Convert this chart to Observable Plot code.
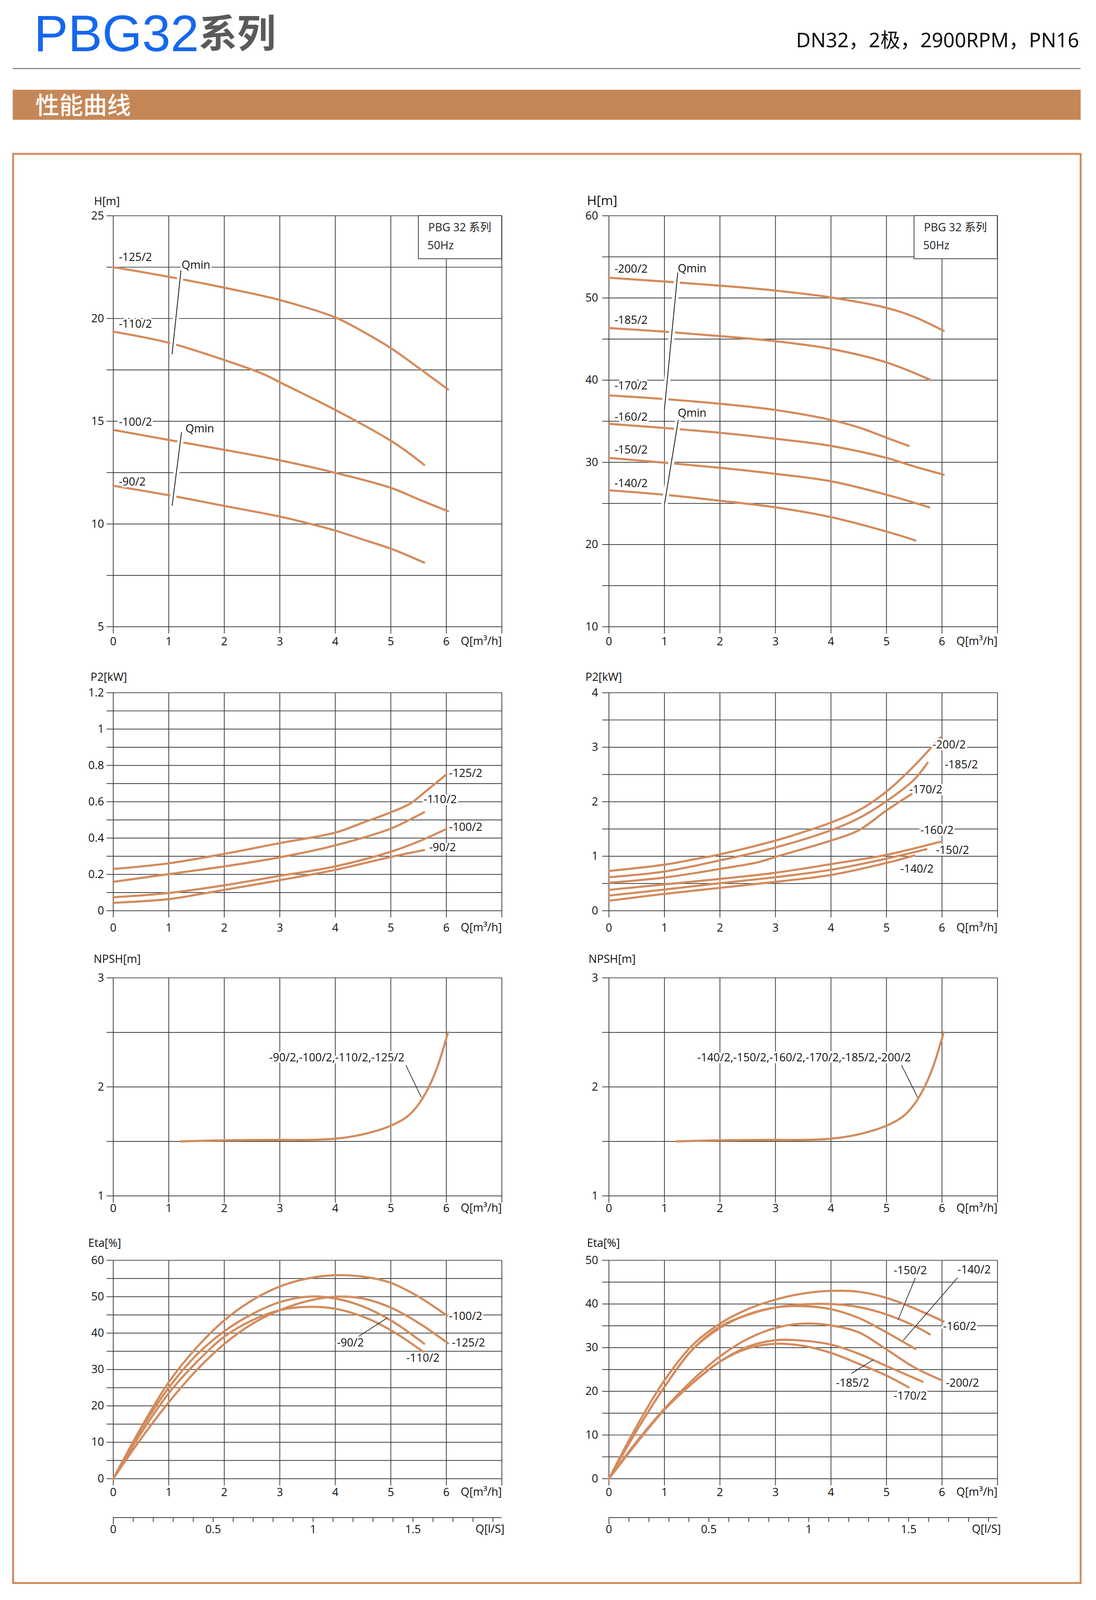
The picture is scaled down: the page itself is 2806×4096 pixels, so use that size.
<!DOCTYPE html>
<html><head><meta charset="utf-8">
<script src="https://cdn.jsdelivr.net/npm/d3@7"></script>
<script src="https://cdn.jsdelivr.net/npm/@observablehq/plot@0.6"></script>
<style>
html,body{margin:0;padding:0;background:#fff;}
#page{position:relative;width:2806px;height:4096px;overflow:hidden;background:#fff;}
#page svg{position:absolute;overflow:visible;}
</style></head>
<body><div id="page"></div>
<script>
const k = 0.986;
const FONT = "'Open Sans','Noto Sans CJK SC',sans-serif";
const CURVE = "#D38B5D";
const GRID = "#3d3d3d";
const BROWN = "#C68758";

// ---------- shared axis values ----------
const qTicks = [0,1,2,3,4,5,6,7];
const qLabels = [0,1,2,3,4,5,6];
const lsTicks = [0,0.1,0.2,0.3,0.4,0.5,0.6,0.7,0.8,0.9,1,1.1,1.2,1.3,1.4,1.5,1.6,1.7,1.8,1.9];
const lsLabels = [0,0.5,1,1.5];

// ---------- H, left (-90/2 ... -125/2) ----------
const hLeftGrid = [5,7.5,10,12.5,15,17.5,20,22.5,25];
const hLeftTickLabels = [5,10,15,20,25];
const hLeftNames = ["-125/2","-110/2","-100/2","-90/2"];
const hLeft125 = [[0,22.5],[1,22.03],[2,21.5],[3,20.9],[4,20.05],[4.5,19.36],[5,18.56],[5.5,17.6],[6.03,16.55]];
const hLeft110 = [[0,19.36],[1,18.82],[2,17.98],[2.7,17.3],[3,16.9],[4,15.55],[5,14.05],[5.3,13.5],[5.6,12.88]];
const hLeft100 = [[0,14.58],[1,14.09],[2,13.61],[3,13.1],[4,12.49],[5,11.76],[5.5,11.2],[6.03,10.62]];
const hLeft90  = [[0,11.86],[1,11.4],[2,10.88],[3,10.36],[3.5,10.04],[4,9.68],[4.5,9.24],[5,8.8],[5.6,8.12]];
const hLeftLabels = [["-125/2",0.1,22.98],["-110/2",0.1,19.73],["-100/2",0.1,14.95],["-90/2",0.1,12.05],["Qmin",1.23,22.6],["Qmin",1.3,14.63]];
const hLeftQmin = [[1.22,22.35,1.06,18.27],[1.23,14.47,1.06,10.89]];

// ---------- H, right (-140/2 ... -200/2) ----------
const hRightGrid = [10,15,20,25,30,35,40,45,50,55,60];
const hRightTickLabels = [10,20,30,40,50,60];
const hRightNames = ["-200/2","-185/2","-170/2","-160/2","-150/2","-140/2"];
const hRight200 = [[0,52.46],[1,52.0],[2,51.5],[3,50.9],[4,50.06],[5,48.8],[5.5,47.7],[6.03,46.0]];
const hRight185 = [[0,46.34],[1,45.9],[2,45.36],[3,44.74],[4,43.8],[5,42.16],[5.8,40.0]];
const hRight170 = [[0,38.15],[1,37.7],[2,37.13],[3,36.37],[4,35.16],[4.5,34.25],[5,33.0],[5.4,32.0]];
const hRight160 = [[0,34.69],[1,34.18],[2,33.6],[3,32.87],[4,32.0],[5,30.54],[5.5,29.5],[6.03,28.5]];
const hRight150 = [[0,30.54],[1,29.96],[2,29.34],[3,28.6],[4,27.7],[5,26.06],[5.77,24.53]];
const hRight140 = [[0,26.6],[1,26.06],[2,25.33],[3,24.53],[4,23.33],[5,21.58],[5.52,20.5]];
const hRightLabels = [["-200/2",0.1,53.5],["-185/2",0.1,47.3],["-170/2",0.1,39.3],["-160/2",0.1,35.5],["-150/2",0.1,31.5],["-140/2",0.1,27.4],["Qmin",1.24,53.55],["Qmin",1.24,36.0]];
const hRightQmin = [[1.24,53.1,1.0,36.44],[1.25,35.16,1.0,24.86]];

// ---------- P2, left ----------
const pLeftGrid = [0,0.1,0.2,0.3,0.4,0.5,0.6,0.7,0.8,0.9,1,1.1,1.2];
const pLeftTickLabels = [0,0.2,0.4,0.6,0.8,1,1.2];
const pLeftNames = ["-125/2","-110/2","-100/2","-90/2"];
const pLeft125 = [[0,0.23],[1,0.261],[2,0.313],[3,0.372],[4,0.43],[4.5,0.485],[5,0.542],[5.35,0.59],[5.66,0.665],[6,0.75]];
const pLeft110 = [[0,0.159],[1,0.2016],[2,0.244],[3,0.294],[4,0.36],[5,0.452],[5.3,0.495],[5.6,0.542]];
const pLeft100 = [[0,0.074],[1,0.0975],[2,0.14],[3,0.192],[4,0.244],[5,0.325],[5.5,0.381],[6,0.45]];
const pLeft90  = [[0,0.0435],[1,0.064],[1.5,0.088],[2,0.1145],[3,0.168],[4,0.225],[5,0.296],[5.6,0.334]];
const pLeftLabels = [["-125/2",6.05,0.755],["-110/2",5.59,0.613],["-100/2",6.05,0.46],["-90/2",5.69,0.348]];

// ---------- P2, right ----------
const pRightGrid = [0,0.5,1,1.5,2,2.5,3,3.5,4];
const pRightTickLabels = [0,1,2,3,4];
const pRightNames = ["-200/2","-185/2","-170/2","-160/2","-150/2","-140/2"];
const pRight200 = [[0,0.729],[1,0.845],[1.6,0.956],[2,1.035],[3,1.287],[3.6,1.476],[4,1.618],[4.5,1.84],[5,2.186],[5.5,2.66],[5.97,3.18]];
const pRight185 = [[0,0.615],[1,0.719],[2,0.924],[3,1.16],[4,1.476],[4.5,1.697],[5,2.01],[5.5,2.407],[5.74,2.716]];
const pRight170 = [[0,0.514],[1,0.609],[2,0.767],[2.7,0.893],[3,0.987],[4,1.287],[4.5,1.476],[5,1.84],[5.45,2.139]];
const pRight160 = [[0,0.382],[1,0.483],[2,0.584],[3,0.697],[4,0.855],[5,1.025],[5.97,1.265]];
const pRight150 = [[0,0.278],[1,0.388],[2,0.505],[3,0.615],[4,0.751],[5,0.956],[5.72,1.129]];
const pRight140 = [[0,0.183],[1,0.309],[2,0.42],[3,0.53],[4,0.656],[5,0.877],[5.5,1.013]];
const pRightLabels = [["-200/2",5.83,3.04],["-185/2",6.05,2.68],["-170/2",5.41,2.22],["-160/2",5.61,1.476],["-150/2",5.89,1.11],["-140/2",5.25,0.767]];

// ---------- NPSH ----------
const nGrid = [1,1.5,2,2.5,3];
const nTickLabels = [1,2,3];
const nNames = ["all"];
const nLeftCurve  = [[1.21,1.5],[2,1.51],[3,1.514],[3.5,1.514],[4,1.525],[4.5,1.565],[5,1.644],[5.3,1.73],[5.5,1.84],[5.7,2.014],[5.85,2.2],[6.03,2.5]];
const nRightCurve = [[1.21,1.5],[2,1.51],[3,1.514],[3.5,1.514],[4,1.525],[4.5,1.565],[5,1.644],[5.3,1.73],[5.5,1.84],[5.7,2.014],[5.85,2.2],[6.03,2.5]];
const nLeftLabels = [["-90/2,-100/2,-110/2,-125/2",2.81,2.267]];
const nRightLabels = [["-140/2,-150/2,-160/2,-170/2,-185/2,-200/2",1.59,2.267]];
const nLeftLeaders = [[5.27,2.2,5.55,1.904]];
const nRightLeaders = [[5.27,2.2,5.56,1.904]];

// ---------- Eta, left ----------
const eLeftGrid = [0,5,10,15,20,25,30,35,40,45,50,55,60];
const eLeftTickLabels = [0,10,20,30,40,50,60];
const eLeftNames = ["-100/2","-90/2","-110/2","-125/2"];
const eLeft100 = [[0,0],[0.5,14],[1,26.5],[1.5,36],[2,43.5],[2.5,49],[3,52.8],[3.5,55],[4,55.9],[4.5,55.5],[5,53.8],[5.5,50],[6.03,44.6]];
const eLeft90  = [[0,0],[0.5,13.5],[1,25],[1.5,34],[2,40.5],[2.5,45.2],[3,48.5],[3.5,50],[4,49.5],[4.5,47.3],[5,43.5],[5.6,37.1]];
const eLeft110 = [[0,0],[0.5,12.5],[1,23.5],[1.5,32],[2,39],[2.5,43.5],[3,46.3],[3.5,47.2],[4,46.7],[4.5,44.5],[5,40.8],[5.6,34.7]];
const eLeft125 = [[0,0],[0.5,11],[1,21],[1.5,29.8],[2,37],[2.5,42.5],[3,46.3],[3.5,48.8],[4,50],[4.5,49.5],[5,47],[5.5,42.8],[6.03,37.2]];
const eLeftLabels = [["-100/2",6.05,44.6],["-125/2",6.1,37.3],["-90/2",4.03,37.3],["-110/2",5.28,33.1]];
const eLeftLeaders = [[4.42,39.1,4.93,44.1]];

// ---------- Eta, right ----------
const eRightGrid = [0,5,10,15,20,25,30,35,40,45,50];
const eRightTickLabels = [0,10,20,30,40,50];
const eRightNames = ["-160/2","-150/2","-140/2","-200/2","-185/2","-170/2"];
const eRight160 = [[0,0],[0.5,12],[1,22.5],[1.5,30.5],[2,35.5],[2.5,38.8],[3,41],[3.5,42.4],[4,43],[4.5,42.8],[5,41.4],[5.5,39],[6.03,36]];
const eRight150 = [[0,0],[0.5,11],[1,21],[1.5,29.5],[2,34.8],[2.5,37.5],[3,39.2],[3.5,39.9],[4,40],[4.5,39.3],[5,37.6],[5.5,35],[5.78,33.05]];
const eRight140 = [[0,0],[0.5,11],[1,21],[1.5,29.5],[2,34.5],[2.5,37.6],[3,39.2],[3.5,39.5],[4,38.8],[4.5,36.8],[5,33.5],[5.52,29.7]];
const eRight200 = [[0,0],[0.5,8.5],[1,16],[1.5,22.5],[2,28],[2.5,32],[3,34.5],[3.5,35.5],[4,35.1],[4.5,33.5],[5,29.6],[5.5,25.5],[6.0,22.5]];
const eRight185 = [[0,0],[0.5,8.2],[1,15.8],[1.5,21.8],[2,26.8],[2.5,30.2],[3,31.7],[3.5,31.6],[4,30.7],[4.5,28.6],[5,25.8],[5.65,22.2]];
const eRight170 = [[0,0],[0.5,8.2],[1,15.8],[1.5,21.8],[2,26.8],[2.5,29.8],[3,30.9],[3.5,30.4],[4,28.8],[4.5,26.3],[5,23.6],[5.4,20.9]];
const eRightLabels = [["-150/2",5.13,47.6],["-140/2",6.28,47.8],["-160/2",6.02,34.85],["-200/2",6.07,21.9],["-185/2",4.09,21.9],["-170/2",5.13,18.9]];
const eRightLeaders = [[5.52,46.0,5.21,36.4],[6.28,46.0,5.3,31.65],[4.37,24.1,4.76,27.2]];

// ---------- layout (reference pixels, scaled by k) ----------
const page = document.getElementById("page");
const colL = {x0: 294, x1: 1303}, colR = {x0: 1581, x1: 2590};
const rowH = {y0: 560, y1: 1627}, rowP = {y0: 1798, y1: 2364}, rowN = {y0: 2538, y1: 3104}, rowE = {y0: 3272, y1: 3839};

// background / header
const bg = d3.create("svg").attr("width", 2806).attr("height", 4096).style("left", "0px").style("top", "0px");
bg.append("text").attr("x", 88*k).attr("y", 133*k).attr("font-family", "'Liberation Sans',Arial,sans-serif")
  .attr("font-size", 133*k).attr("fill", "#1567EE").text("PBG32");
bg.append("text").attr("x", 516*k).attr("y", 123*k).attr("font-family", "'Noto Sans CJK SC',sans-serif")
  .attr("font-weight", 700).attr("font-size", 100*k).attr("fill", "#5a5a5a").text("系列");
bg.append("text").attr("x", 2802*k).attr("y", 123*k).attr("text-anchor", "end")
  .attr("font-family", "'Noto Sans','Noto Sans CJK SC',sans-serif").attr("font-size", 52*k).attr("fill", "#111")
  .text("DN32，2极，2900RPM，PN16");
bg.append("rect").attr("x", 33*k).attr("y", 176.5*k).attr("width", (2806-33)*k).attr("height", 3*k).attr("fill", "#8c8c8c");
bg.append("rect").attr("x", 33*k).attr("y", 233*k).attr("width", (2806-33)*k).attr("height", 78*k).attr("fill", BROWN);
bg.append("text").attr("x", 92*k).attr("y", 296*k).attr("font-family", "'Noto Sans CJK SC',sans-serif")
  .attr("font-weight", 500).attr("font-size", 62*k).attr("fill", "#fff").text("性能曲线");
bg.append("rect").attr("x", 34*k).attr("y", 399.5*k).attr("width", (2806-34)*k).attr("height", (4110-399.5)*k)
  .attr("fill", "none").attr("stroke", "#D28A5C").attr("stroke-width", 5*k);
page.appendChild(bg.node());

function chart(cfg) {
  const mL = 110, mR = 50, mT = 80, mB = 70;
  const fw = cfg.col.x1 - cfg.col.x0, fh = cfg.row.y1 - cfg.row.y0;
  const rows = [];
  cfg.names.forEach((n, i) => cfg.series[i].forEach(([q, v]) => rows.push({s: n, q, v})));
  const lab = cfg.labels.map(([t, q, v]) => ({t, q, v}));
  const fs = 29*k;
  const marks = [
    Plot.gridY(cfg.yGrid, {stroke: GRID, strokeOpacity: 1, strokeWidth: 2*k}),
    Plot.gridX(qTicks, {stroke: GRID, strokeOpacity: 1, strokeWidth: 2*k}),
    Plot.axisY(cfg.yGrid, {label: null, tickSize: 17*k, tickPadding: cfg.yPad*k, strokeWidth: 2*k, stroke: GRID, fill: "#111", fontSize: fs,
      tickFormat: d => cfg.yLabels.includes(d) ? String(d) : ""}),
    Plot.axisX(qTicks, {label: null, tickSize: 18*k, tickPadding: cfg.xPad*k, strokeWidth: 2*k, stroke: GRID, fill: "#111", fontSize: fs,
      tickFormat: d => qLabels.includes(d) ? String(d) : ""})
  ];
  if (cfg.legendY1 !== undefined) {
    marks.push(Plot.rect([{x1: 5.5, x2: 7, y1: cfg.legendY1, y2: cfg.yDomain[1]}],
      {x1: "x1", x2: "x2", y1: "y1", y2: "y2", fill: "white", stroke: GRID, strokeWidth: 2*k}));
    marks.push(Plot.text(["PBG 32 系列"], {text: d => d, frameAnchor: "top-right", dx: -191*k, dy: 31*k,
      textAnchor: "start", lineAnchor: "middle", fontSize: fs, fill: "#222"}));
    marks.push(Plot.text(["50Hz"], {text: d => d, frameAnchor: "top-right", dx: -193*k, dy: 78*k,
      textAnchor: "start", lineAnchor: "middle", fontSize: fs, fill: "#222"}));
  }
  marks.push(Plot.line(rows, {x: "q", y: "v", z: "s", stroke: CURVE, strokeWidth: 5.5*k, curve: "catmull-rom"}));
  if (cfg.qmin) {
    const qm = cfg.qmin.map(([x1, y1, x2, y2]) => ({x1, y1, x2, y2}));
    marks.push(Plot.link(qm, {x1: "x1", y1: "y1", x2: "x2", y2: "y2", stroke: "white", strokeWidth: 16*k}));
    marks.push(Plot.link(qm, {x1: "x1", y1: "y1", x2: "x2", y2: "y2", stroke: "#111", strokeWidth: 2*k}));
  }
  if (cfg.leaders) {
    const ld = cfg.leaders.map(([x1, y1, x2, y2]) => ({x1, y1, x2, y2}));
    marks.push(Plot.link(ld, {x1: "x1", y1: "y1", x2: "x2", y2: "y2", stroke: "#111", strokeWidth: 1.6*k}));
  }
  marks.push(Plot.text(lab, {x: "q", y: "v", text: "t", textAnchor: "start", lineAnchor: "middle", fontSize: fs,
    fill: "white", stroke: "white", strokeWidth: 10*k}));
  marks.push(Plot.text(lab, {x: "q", y: "v", text: "t", textAnchor: "start", lineAnchor: "middle", fontSize: fs, fill: "#111"}));
  marks.push(Plot.text([cfg.yTitle], {text: d => d, frameAnchor: "top-left", dx: cfg.yTitleDx*k, dy: cfg.yTitleDy*k,
    textAnchor: "start", lineAnchor: "middle", fontSize: cfg.yTitleSize*k, fill: "#111"}));
  marks.push(Plot.text(["Q[m³/h]"], {text: d => d, frameAnchor: "bottom-right", dx: 0, dy: cfg.qTitleDy*k,
    textAnchor: "end", lineAnchor: "middle", fontSize: fs, fill: "#111"}));

  const svg = Plot.plot({
    width: (fw + mL + mR)*k, height: (fh + mT + mB)*k,
    marginLeft: mL*k, marginRight: mR*k, marginTop: mT*k, marginBottom: mB*k,
    x: {domain: [0, 7], label: null}, y: {domain: cfg.yDomain, label: null},
    style: {fontFamily: FONT, fontSize: `${fs}px`, background: "transparent", overflow: "visible"},
    marks
  });
  svg.style.left = `${(cfg.col.x0 - mL)*k}px`;
  svg.style.top = `${(cfg.row.y0 - mT)*k}px`;
  page.appendChild(svg);

  if (cfg.secondAxis) {
    const t = 20, b = 60, h = 100;
    const sub = Plot.plot({
      width: (fw + mL + mR)*k, height: h*k, marginLeft: mL*k, marginRight: mR*k, marginTop: t*k, marginBottom: b*k,
      x: {domain: [0, 7/3.6], label: null}, y: {domain: [0, 1], axis: null, label: null},
      style: {fontFamily: FONT, fontSize: `${fs}px`, background: "transparent", overflow: "visible"},
      marks: [
        Plot.ruleY([0], {stroke: GRID, strokeWidth: 2*k}),
        Plot.axisX(lsTicks, {label: null, tickSize: 12*k, tickPadding: 8*k, strokeWidth: 2*k, stroke: GRID, fill: "#111", fontSize: fs,
          tickFormat: d => lsLabels.includes(d) ? String(d) : ""}),
        Plot.axisX([0], {label: null, tickSize: 18*k, strokeWidth: 2*k, stroke: GRID, tickFormat: () => ""}),
        Plot.text(["Q[l/S]"], {text: d => d, frameAnchor: "bottom-right", dx: cfg.lsDx*k, dy: 30*k,
          textAnchor: "end", lineAnchor: "middle", fontSize: fs, fill: "#111"})
      ]
    });
    sub.style.left = `${(cfg.col.x0 - mL)*k}px`;
    sub.style.top = `${(3940 - (h - b))*k}px`;
    page.appendChild(sub);
  }
}

chart({col: colL, row: rowH, yDomain: [5, 25], yGrid: hLeftGrid, yLabels: hLeftTickLabels,
  names: hLeftNames, series: [hLeft125, hLeft110, hLeft100, hLeft90], labels: hLeftLabels, qmin: hLeftQmin,
  legendY1: 22.9, yPad: 7, xPad: 9.5, qTitleDy: 38, yTitle: "H[m]", yTitleDx: -50, yTitleDy: -37, yTitleSize: 29});
chart({col: colR, row: rowH, yDomain: [10, 60], yGrid: hRightGrid, yLabels: hRightTickLabels,
  names: hRightNames, series: [hRight200, hRight185, hRight170, hRight160, hRight150, hRight140], labels: hRightLabels, qmin: hRightQmin,
  legendY1: 54.75, yPad: 11, xPad: 9.5, qTitleDy: 38, yTitle: "H[m]", yTitleDx: -57, yTitleDy: -39, yTitleSize: 34});
chart({col: colL, row: rowP, yDomain: [0, 1.2], yGrid: pLeftGrid, yLabels: pLeftTickLabels,
  names: pLeftNames, series: [pLeft125, pLeft110, pLeft100, pLeft90], labels: pLeftLabels,
  yPad: 7, xPad: 15.5, qTitleDy: 44, yTitle: "P2[kW]", yTitleDx: -59, yTitleDy: -40, yTitleSize: 29});
chart({col: colR, row: rowP, yDomain: [0, 4], yGrid: pRightGrid, yLabels: pRightTickLabels,
  names: pRightNames, series: [pRight200, pRight185, pRight170, pRight160, pRight150, pRight140], labels: pRightLabels,
  yPad: 11, xPad: 15.5, qTitleDy: 44, yTitle: "P2[kW]", yTitleDx: -61, yTitleDy: -40, yTitleSize: 29});
chart({col: colL, row: rowN, yDomain: [1, 3], yGrid: nGrid, yLabels: nTickLabels,
  names: nNames, series: [nLeftCurve], labels: nLeftLabels, leaders: nLeftLeaders,
  yPad: 7, xPad: 3.5, qTitleDy: 32, yTitle: "NPSH[m]", yTitleDx: -51, yTitleDy: -48, yTitleSize: 29});
chart({col: colR, row: rowN, yDomain: [1, 3], yGrid: nGrid, yLabels: nTickLabels,
  names: nNames, series: [nRightCurve], labels: nRightLabels, leaders: nRightLeaders,
  yPad: 11, xPad: 3.5, qTitleDy: 32, yTitle: "NPSH[m]", yTitleDx: -53, yTitleDy: -48, yTitleSize: 29});
chart({col: colL, row: rowE, yDomain: [0, 60], yGrid: eLeftGrid, yLabels: eLeftTickLabels,
  names: eLeftNames, series: [eLeft100, eLeft90, eLeft110, eLeft125], labels: eLeftLabels, leaders: eLeftLeaders,
  yPad: 7, xPad: 6.5, qTitleDy: 35, yTitle: "Eta[%]", yTitleDx: -65, yTitleDy: -44, yTitleSize: 29,
  secondAxis: true, lsDx: 7});
chart({col: colR, row: rowE, yDomain: [0, 50], yGrid: eRightGrid, yLabels: eRightTickLabels,
  names: eRightNames, series: [eRight160, eRight150, eRight140, eRight200, eRight185, eRight170], labels: eRightLabels, leaders: eRightLeaders,
  yPad: 11, xPad: 6.5, qTitleDy: 35, yTitle: "Eta[%]", yTitleDx: -57, yTitleDy: -44, yTitleSize: 29,
  secondAxis: true, lsDx: 9});
</script>
</body></html>
